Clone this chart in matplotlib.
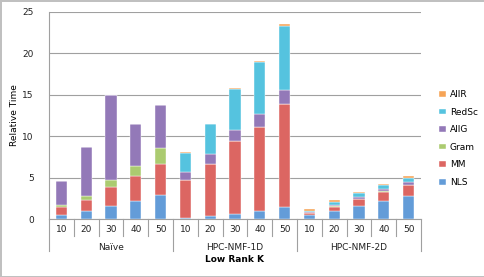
import matplotlib
matplotlib.use("Agg")
import matplotlib.pyplot as plt
import matplotlib.transforms as mtransforms
import numpy as np

# ── Data ──────────────────────────────────────────────────────────────────────
groups = ["Naïve", "HPC-NMF-1D", "HPC-NMF-2D"]
ranks = [10, 20, 30, 40, 50]

nls   = [0.48, 1.00, 1.60, 2.17, 2.90,  0.10, 0.36, 0.64, 1.00, 1.45,  0.48, 1.00, 1.60, 2.17, 2.81]
mm    = [0.92, 1.30, 2.26, 3.02, 3.73,  4.60, 6.27, 8.76, 10.14, 12.38, 0.22, 0.48, 0.81, 1.13, 1.29]
gram  = [0.25, 0.47, 0.84, 1.24, 1.93,  0.00, 0.00, 0.00, 0.00, 0.00,  0.04, 0.05, 0.05, 0.05, 0.05]
allg  = [2.93, 5.95, 10.30, 4.99, 5.19, 0.97, 1.21, 1.37, 1.56, 1.73,  0.12, 0.19, 0.23, 0.23, 0.27]
redsc = [0.00, 0.00, 0.00, 0.00, 0.00,  2.33, 3.56, 4.95, 6.28, 7.74,  0.15, 0.38, 0.41, 0.48, 0.56]
allr  = [0.00, 0.00, 0.00, 0.00, 0.00,  0.12, 0.10, 0.12, 0.12, 0.15,  0.17, 0.20, 0.12, 0.20, 0.24]

series = [("NLS", nls), ("MM", mm), ("Gram", gram),
          ("AllG", allg), ("RedSc", redsc), ("AllR", allr)]
colors = ["#639cd8", "#dc6662", "#abcb70", "#9379b8", "#55c3df", "#f6a456"]

fig = plt.figure(figsize=(4.85, 2.77), dpi=100)
fig.patch.set_facecolor("white")
fig.patch.set_edgecolor("#c0c0c0")
fig.patch.set_linewidth(2)
ax = fig.add_axes([0.101, 0.209, 0.767, 0.749])

n = len(groups) * len(ranks)
x = np.arange(n)
bottom = np.zeros(n)
handles = []
for (name, vals), c in zip(series, colors):
    b = ax.bar(x, vals, 0.45, bottom=bottom, color=c, edgecolor="white",
               linewidth=0.3, label=name, zorder=3)
    handles.append(b)
    bottom += np.array(vals)

ax.set_xlim(-0.5, n - 0.5)
ax.set_ylim(0, 25)
ax.set_yticks(range(0, 26, 5))
ax.grid(axis="y", color="#a0a0a0", linewidth=0.8, zorder=0)
for s in ["top", "right"]:
    ax.spines[s].set_visible(False)
ax.spines["left"].set_color("#a0a0a0")
ax.spines["bottom"].set_color("#a0a0a0")
ax.tick_params(axis="y", length=0, labelsize=6.5, pad=11, colors="#222222")
ax.set_xticks(x)
ax.set_xticklabels([str(k) for k in ranks] * len(groups))
ax.tick_params(axis="x", length=0, labelsize=6.5, pad=4, colors="#222222")
ax.set_ylabel("Relative Time", fontsize=6.5, labelpad=2)

# ── Multi-level category axis ─────────────────────────────────────────────────
trans = mtransforms.blended_transform_factory(ax.transData, ax.transAxes)
for i in range(n + 1):
    pos = i - 0.5
    depth = -0.154 if i % len(ranks) == 0 else -0.082
    ax.plot([pos, pos], [0, depth], color="#a0a0a0", lw=0.8,
            transform=trans, clip_on=False)
for g, name in enumerate(groups):
    mid = g * len(ranks) + (len(ranks) - 1) / 2
    ax.text(mid, -0.135, name, transform=trans, ha="center", va="center",
            fontsize=6.5, color="#222222")
ax.text((n - 1) / 2, -0.193, "Low Rank K", transform=trans, ha="center",
        va="center", fontsize=6.5, fontweight="bold")

# ── Legend ────────────────────────────────────────────────────────────────────
leg = fig.legend(handles[::-1], [s[0] for s in series][::-1],
                 loc="center left", bbox_to_anchor=(0.888, 0.5),
                 frameon=False, fontsize=6.5, handlelength=0.8,
                 handleheight=0.6, handletextpad=0.4, labelspacing=0.95)

fig.savefig("out.png", dpi=100, facecolor=fig.get_facecolor(),
            edgecolor=fig.get_edgecolor())
